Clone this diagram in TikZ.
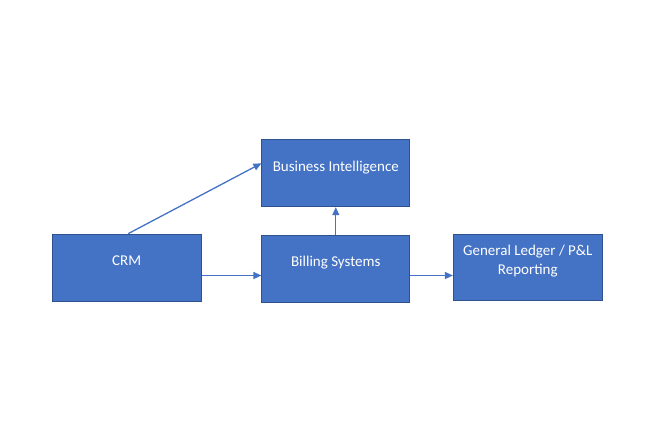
\documentclass[tikz,border=0pt]{standalone}
\usepackage{fontspec}
\setmainfont{Carlito}
\usetikzlibrary{arrows.meta}
\definecolor{boxfill}{HTML}{4472C4}
\definecolor{boxline}{HTML}{2F528F}
\definecolor{arrowc}{HTML}{4472C4}
\tikzset{
  block/.style={draw=boxline, line width=0.8pt, fill=boxfill, text=white, inner sep=0pt,
    font=\fontsize{15}{19}\selectfont},
  conn/.style={draw=arrowc, line width=1.3pt, -{Triangle[length=8pt,width=7pt]}}
}
\newcommand{\boxtxt}[1]{\raisebox{6pt}[\height][\depth]{\begin{tabular}{@{}c@{}}#1\end{tabular}}}
\begin{document}
\begin{tikzpicture}[x=1pt,y=-1pt]
\useasboundingbox (0,0) rectangle (656,437);
\node[block, minimum width=149pt, minimum height=67pt] (crm) at (126.6,267.5) {\boxtxt{CRM}};
\node[block, minimum width=148pt, minimum height=67pt] (bi) at (335.8,173.3) {\boxtxt{Business Intelligence}};
\node[block, minimum width=148pt, minimum height=67pt] (bill) at (335.8,268.8) {\boxtxt{Billing Systems}};
\node[block, minimum width=149pt, minimum height=66pt] (gl) at (527.8,267.5) {\boxtxt{General Ledger / P\&L\\Reporting}};
\coordinate (crmtop) at ([xshift=1.7pt]crm.north);
\coordinate (bileft) at ([yshift=10pt]bi.west);
\draw[conn] (crmtop) -- (bileft);
\draw[conn] (bill.north) -- (bi.south);
\draw[conn] (crm.east |- 0,275.5) -- (bill.west |- 0,275.5);
\draw[conn] (bill.east |- 0,275.5) -- (gl.west |- 0,275.5);
\end{tikzpicture}
\end{document}
